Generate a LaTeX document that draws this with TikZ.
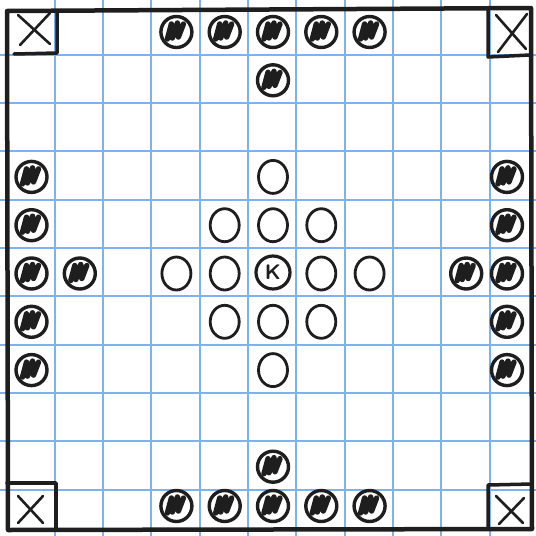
\documentclass[tikz,border=0pt]{standalone}
\usetikzlibrary{shapes.geometric}
\definecolor{gridblue}{RGB}{125,178,240}
\definecolor{inkk}{RGB}{30,30,30}
\tikzset{
  gridline/.style={draw=gridblue, line width=2pt},
  boardedge/.style={draw=inkk, line width=4.5pt, line join=round, line cap=round},
  cornerbox/.style={draw=inkk, line width=3.5pt, line join=round, line cap=round},
  cornerx/.style={draw=inkk, line width=2.6pt, line cap=round},
  blackpiece/.style={circle, draw=inkk, line width=3.4pt, minimum size=31pt, inner sep=0pt},
  scribble/.style={draw=inkk, line width=5.4pt, line cap=round, line join=round},
  whitepiece/.style={ellipse, draw=inkk, line width=2.8pt, minimum width=29pt, minimum height=33pt, inner sep=0pt},
  kingpiece/.style={ellipse, draw=inkk, line width=3.2pt, minimum width=34pt, minimum height=33pt, inner sep=0pt, font=\sffamily\bfseries\fontsize{21}{21}\selectfont, text=inkk}
}
\begin{document}
\begin{tikzpicture}[x=1pt,y=-1pt]
\useasboundingbox (0,0) rectangle (536,536);
\fill[white] (0,0) rectangle (536,536);
% grid
\foreach \k in {1,...,10} {
  \draw[gridline] ({6.5+48.3*\k},0) -- ({6.5+48.3*\k},536);
  \draw[gridline] (0,{6.5+48.3*\k}) -- (536,{6.5+48.3*\k});
}
% board edge
\draw[boardedge] (7,11) -- (531,8) -- (532,529) -- (8,530) -- cycle;
% corner boxes
\draw[cornerbox] (7,11) -- (57,11) -- (57,53) -- (14,54);
\draw[cornerx] (18,15) -- (50,44);
\draw[cornerx] (50,13) -- (20,45);
\draw[cornerbox] (488,9) -- (488,57) -- (530,55);
\draw[cornerx] (496,15) -- (526,49);
\draw[cornerx] (527,14) -- (498,52);
\draw[cornerbox] (7,483) -- (56,483) -- (56,529);
\draw[cornerx] (18,496) -- (43,523);
\draw[cornerx] (43,496) -- (18,523);
\draw[cornerbox] (532,484) -- (488,485) -- (488,529);
\draw[cornerx] (496,496) -- (523,523);
\draw[cornerx] (524,498) -- (499,524);
% black pieces
\foreach \c/\r in {3/0,4/0,5/0,6/0,7/0,5/1,3/10,4/10,5/10,6/10,7/10,5/9,0/3,0/4,0/5,0/6,0/7,1/5,10/3,10/4,10/5,10/6,10/7,9/5} {
  \node[blackpiece] (b\c-\r) at ({ifthenelse(\c==10,507,31.5+48.3*\c)},{ifthenelse(\r==10,506,32+48.3*\r)}) {};
  \draw[scribble] ([shift={(-9,7)}]b\c-\r.center) -- ++(4,-15) -- ++(1,14) -- ++(5,-15) -- ++(1,14) -- ++(5,-13);
}
% white pieces
\foreach \c/\r in {5/3,4/4,5/4,6/4,3/5,4/5,6/5,7/5,4/6,5/6,6/6,5/7} {
  \node[whitepiece] (w\c-\r) at ({31.5+48.3*\c},{32+48.3*\r}) {};
}
\node[kingpiece] (king) at ({31.5+48.3*5},{31+48.3*5}) {K};
\end{tikzpicture}
\end{document}
